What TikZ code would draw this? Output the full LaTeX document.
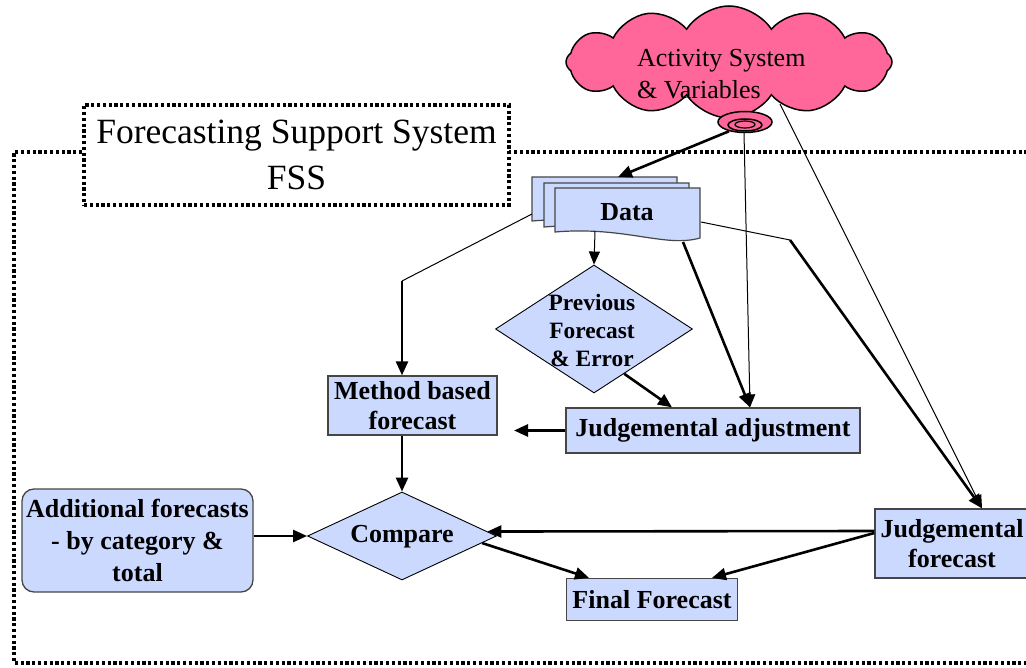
\documentclass[tikz,border=0pt]{standalone}
\usepackage{fontspec}
\setmainfont{Liberation Serif}
\usetikzlibrary{shapes.geometric,shapes.symbols,arrows.meta,calc}
\definecolor{boxblue}{RGB}{204,217,255}
\definecolor{cloudpink}{RGB}{255,102,153}
\definecolor{edgegray}{RGB}{70,70,70}
\begin{document}
\begin{tikzpicture}[x=1pt,y=-1pt,
  box/.style={draw=edgegray, line width=1.3pt, fill=boxblue, font=\fontsize{26}{30}\selectfont\bfseries, align=center, inner sep=0pt},
  dia/.style={diamond, draw=black, line width=0.9pt, fill=boxblue, inner sep=0pt},
  lbl/.style={font=\fontsize{26}{30}\selectfont\bfseries, align=center, inner sep=0pt},
  thk/.style={line width=2.6pt, -{Triangle[length=14pt,width=12pt]}},
  thkline/.style={line width=2.6pt},
  thn/.style={line width=1pt},
  thnarrow/.style={line width=1pt, -{Triangle[length=13pt,width=11pt]}},
  fssline/.style={line width=3.2pt, dash pattern=on 3.2pt off 2.6pt},
  docsty/.style={draw=edgegray, line width=1.2pt, fill=boxblue}
]
\path[use as bounding box, clip] (0,0) rectangle (1026,668);

% outer FSS boundary
\draw[fssline] (1045,152) -- (14,152) -- (14,663) -- (1045,663);
\node[draw, fssline, fill=white, minimum width=425pt, minimum height=100pt, inner sep=0pt,
      font=\fontsize{35.5}{46}\selectfont, align=center] (fss) at (296.5,155)
      {Forecasting Support System\\FSS};

% cloud
\node[cloud, cloud puffs=12, cloud puff arc=115, cloud ignores aspect, minimum width=326pt,
      minimum height=112pt, draw=black, line width=1.5pt, fill=cloudpink, inner sep=0pt] (cloud) at (729,62) {};
\node[align=left, anchor=west, inner sep=0pt, font=\fontsize{26}{32}\selectfont] (cloudtxt) at (637,74)
      {Activity System\\\& Variables};
\node[ellipse, draw=black, line width=1.5pt, fill=cloudpink, minimum width=54pt, minimum height=21pt, inner sep=0pt] (tail) at (745,122) {};
\node[ellipse, draw=black, line width=1.5pt, minimum width=34pt, minimum height=12pt, inner sep=0pt] (tail2) at (745,125) {};
\node[ellipse, draw=black, line width=1.2pt, minimum width=20pt, minimum height=7pt, inner sep=0pt] (tail3) at (745,124.5) {};
\coordinate (cloudpt) at (780,104);

% data documents
\foreach \x/\y in {532/177, 544/183, 555/188}{
  \draw[docsty] (\x,\y) -- ++(145,0) -- ++(0,50) .. controls ++(-35,10) and ++(70,-6) .. (\x,\y+44) -- cycle;
}
\node[lbl] (data) at (627,212) {Data};
\coordinate (dtop) at (618,177);
\coordinate (dbl) at (532,214);
\coordinate (dbot) at (595,231);
\coordinate (dbr) at (683,242);
\coordinate (dright) at (701,222);
\coordinate (bend1) at (402,281);
\coordinate (bend2) at (790,240);

% boxes
\node[box, minimum width=169pt, minimum height=59pt] (meth) at (412.5,405.5) {Method based\\forecast};
\node[box, minimum width=294pt, minimum height=45pt] (jadj) at (713,430.5) {Judgemental adjustment};
\node[box, minimum width=171pt, minimum height=42pt] (fin) at (652,599.5) {Final Forecast};
\node[box, minimum width=154pt, minimum height=69pt] (jfc) at (952,543.5) {Judgemental\\forecast};
\node[box, rounded corners=12pt, minimum width=231pt, minimum height=103pt,
      font=\fontsize{26}{32}\selectfont\bfseries] (add) at (137.5,540.5) {Additional forecasts\\- by category \&\\total};
\coordinate (jadjend) at (514,430.5);

% diamonds
\node[dia, minimum width=197pt, minimum height=128pt] (prev) at (594,329) {};
\node[lbl, font=\fontsize{23.4}{28}\selectfont\bfseries] (prevtxt) at (592,330) {Previous\\Forecast\\\& Error};
\node[dia, minimum width=189pt, minimum height=88pt] (cmp) at (402,536) {};
\node[lbl] (cmptxt) at (402,537) {Compare};

% connectors
\draw[thk] (tail.210) -- (dtop);
\draw[thnarrow] (tail.265) -- (750,0 |- jadj.north);
\draw[thk] (dbr) -- (750,0 |- jadj.north);
\draw[thnarrow] (dbot) -- (prev.north);
\draw[thk] (prev.-56) -- (672,0 |- jadj.north);
\draw[thk] (jadj.west) -- (jadjend);
\draw[thn] (dbl) -- (bend1);
\draw[thk] (bend1) -- (402,0 |- meth.north);
\draw[thk] (402,0 |- meth.south) -- (cmp.north);
\draw[thk] (add.east |- cmp.west) -- (cmp.west);
\draw[thk] (jfc.west |- 0,531) -- (cmp.3.4);
\draw[thk] (jfc.west |- 0,533) -- (712,0 |- fin.north);
\draw[thk] (cmp.-5) -- (589,0 |- fin.north);
\draw[thn] (dright) -- (bend2);
\draw[thk] (bend2) -- (982,0 |- jfc.north);
\draw[thnarrow] (cloudpt) -- (982,0 |- jfc.north);
\end{tikzpicture}
\end{document}
